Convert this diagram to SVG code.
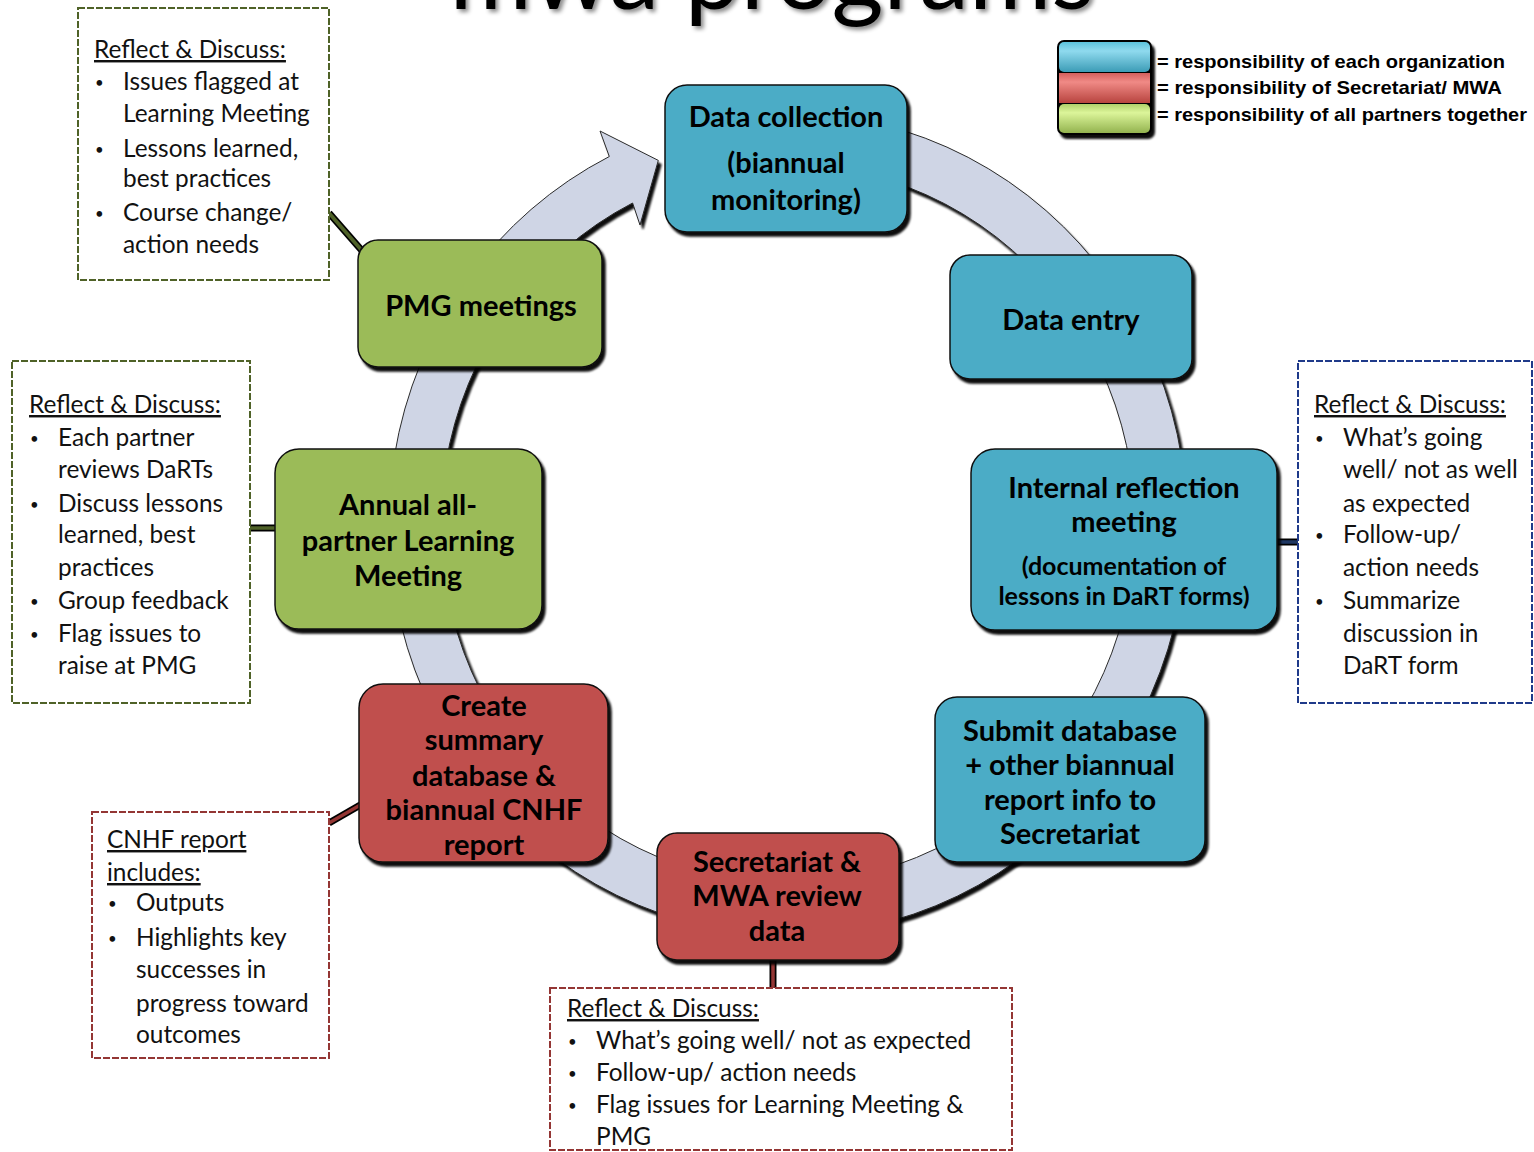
<svg xmlns="http://www.w3.org/2000/svg" width="1534" height="1152" viewBox="0 0 1534 1152">
<defs>
<style>
.node text{font-family:Lato,"Open Sans","Liberation Sans",sans-serif;font-weight:700;font-size:29px;fill:#000;text-anchor:middle}
.node .sm{font-size:25px}
.nb{stroke:#111;stroke-width:1.5}
.blue{fill:#4bacc6}.red{fill:#c0504d}.green{fill:#9bbb59}
.call{fill:#fff;stroke-width:2;stroke-dasharray:7 2}
.call text{font-family:Lato,"Open Sans","Liberation Sans",sans-serif;font-size:24.4px;fill:#111}
.call text.bu{font-size:15px}
.hd{text-decoration:underline}
.leg{font-family:"Liberation Sans",Arial,sans-serif;font-weight:700;font-size:19px;fill:#000}
.cb{stroke:#000;stroke-width:7;fill:none}
</style>
<filter id="sh" x="-10%" y="-10%" width="130%" height="130%">
<feDropShadow dx="3" dy="4" stdDeviation="1" flood-color="#000" flood-opacity="0.95"/>
</filter>
<filter id="tsh" x="-5%" y="-50%" width="110%" height="200%">
<feDropShadow dx="3" dy="3" stdDeviation="2" flood-color="#000" flood-opacity="0.45"/>
</filter>
<linearGradient id="gb" x1="0" y1="0" x2="0" y2="1"><stop offset="0" stop-color="#5cc3dd"/><stop offset="0.3" stop-color="#8fdaee"/><stop offset="1" stop-color="#3c9cb6"/></linearGradient>
<linearGradient id="gr" x1="0" y1="0" x2="0" y2="1"><stop offset="0" stop-color="#d35f5c"/><stop offset="0.3" stop-color="#f08a86"/><stop offset="1" stop-color="#b8443f"/></linearGradient>
<linearGradient id="gg" x1="0" y1="0" x2="0" y2="1"><stop offset="0" stop-color="#b0d06a"/><stop offset="0.3" stop-color="#dcf59a"/><stop offset="1" stop-color="#93b34f"/></linearGradient>
</defs>
<rect width="1534" height="1152" fill="#fff"/>

<text x="772" y="9" font-family="Lato,'Open Sans','Liberation Sans',sans-serif" font-size="100" text-anchor="middle" fill="#000" filter="url(#tsh)">mwa programs</text>

<g id="cycle-arrow" filter="url(#sh)">
<path d="M857.3,119.3 A399,411 0 1 1 609.3,156.5 L600,131 L658.3,160.4 L640,225 L632.6,203 A347,359 0 1 0 848.2,170.5 Z" fill="#cfd5e5" stroke="#2a2a2a" stroke-width="1"/>
</g>

<g id="legend">
<g filter="url(#sh)">
<rect x="1057" y="40" width="95" height="95" rx="7" fill="#000"/>
</g>
<rect x="1059" y="42" width="91" height="30" rx="5" fill="url(#gb)"/>
<rect x="1059" y="73" width="91" height="30" fill="url(#gr)"/>
<rect x="1059" y="104" width="91" height="29" rx="5" fill="url(#gg)"/>
<text class="leg" x="1157" y="68" textLength="348" lengthAdjust="spacingAndGlyphs">= responsibility of each organization</text>
<text class="leg" x="1157" y="94" textLength="345" lengthAdjust="spacingAndGlyphs">= responsibility of Secretariat/ MWA</text>
<text class="leg" x="1157" y="121" textLength="370" lengthAdjust="spacingAndGlyphs">= responsibility of all partners together</text>
</g>

<g id="connectors">
<line class="cb" x1="329" y1="213" x2="364" y2="253"/>
<line x1="329" y1="213" x2="364" y2="253" stroke="#4f6228" stroke-width="3.5"/>
<line class="cb" x1="250" y1="528" x2="276" y2="528"/>
<line x1="250" y1="528" x2="276" y2="528" stroke="#4f6228" stroke-width="3.5"/>
<line class="cb" x1="1276" y1="542" x2="1298" y2="542"/>
<line x1="1276" y1="542" x2="1298" y2="542" stroke="#1f3864" stroke-width="3.5"/>
<line class="cb" x1="329" y1="823" x2="362" y2="804"/>
<line x1="329" y1="823" x2="362" y2="804" stroke="#943634" stroke-width="3.5"/>
<line class="cb" x1="773" y1="958" x2="773" y2="989"/>
<line x1="773" y1="958" x2="773" y2="989" stroke="#943634" stroke-width="3.5"/>
</g>

<g id="node-data-collection" class="node">
<rect class="nb blue" x="665" y="85" width="242" height="147" rx="22" filter="url(#sh)"/>
<text x="786" y="127">Data collection</text>
<text x="786" y="173">(biannual</text>
<text x="786" y="210">monitoring)</text>
</g>
<g id="node-data-entry" class="node">
<rect class="nb blue" x="950" y="255" width="242" height="124" rx="20" filter="url(#sh)"/>
<text x="1071" y="330">Data entry</text>
</g>
<g id="node-internal-reflection" class="node">
<rect class="nb blue" x="971" y="449" width="306" height="181" rx="24" filter="url(#sh)"/>
<text x="1124" y="498">Internal reflection</text>
<text x="1124" y="532">meeting</text>
<text class="sm" x="1124" y="575">(documentation of</text>
<text class="sm" x="1124" y="605">lessons in DaRT forms)</text>
</g>
<g id="node-submit" class="node">
<rect class="nb blue" x="935" y="697" width="270" height="165" rx="22" filter="url(#sh)"/>
<text x="1070" y="741">Submit database</text>
<text x="1070" y="775">+ other biannual</text>
<text x="1070" y="810">report info to</text>
<text x="1070" y="844">Secretariat</text>
</g>
<g id="node-secretariat-review" class="node">
<rect class="nb red" x="657" y="833" width="242" height="127" rx="20" filter="url(#sh)"/>
<text x="777" y="872">Secretariat &amp;</text>
<text x="777" y="906">MWA review</text>
<text x="777" y="941">data</text>
</g>
<g id="node-create-summary" class="node">
<rect class="nb red" x="359" y="684" width="249" height="178" rx="24" filter="url(#sh)"/>
<text x="484" y="716">Create</text>
<text x="484" y="750">summary</text>
<text x="484" y="786">database &amp;</text>
<text x="484" y="820">biannual CNHF</text>
<text x="484" y="855">report</text>
</g>
<g id="node-annual-meeting" class="node">
<rect class="nb green" x="275" y="449" width="267" height="180" rx="24" filter="url(#sh)"/>
<text x="408" y="515">Annual all-</text>
<text x="408" y="551">partner Learning</text>
<text x="408" y="586">Meeting</text>
</g>
<g id="node-pmg" class="node">
<rect class="nb green" x="358" y="240" width="244" height="127" rx="20" filter="url(#sh)"/>
<text x="481" y="316">PMG meetings</text>
</g>

<g id="callout-pmg" class="call">
<rect class="call" x="78" y="8" width="251" height="272" stroke="#4f6228"/>
<text class="hd" x="94" y="58">Reflect &amp; Discuss:</text>
<text class="bu" x="95" y="88">•</text><text x="123" y="90">Issues flagged at</text>
<text x="123" y="122">Learning Meeting</text>
<text class="bu" x="95" y="155">•</text><text x="123" y="157">Lessons learned,</text>
<text x="123" y="187">best practices</text>
<text class="bu" x="95" y="219">•</text><text x="123" y="221">Course change/</text>
<text x="123" y="253">action needs</text>
</g>

<g id="callout-annual" class="call">
<rect class="call" x="12" y="361" width="238" height="342" stroke="#4f6228"/>
<text class="hd" x="29" y="413">Reflect &amp; Discuss:</text>
<text class="bu" x="30" y="444">•</text><text x="58" y="446">Each partner</text>
<text x="58" y="478">reviews DaRTs</text>
<text class="bu" x="30" y="510">•</text><text x="58" y="512">Discuss lessons</text>
<text x="58" y="543">learned, best</text>
<text x="58" y="576">practices</text>
<text class="bu" x="30" y="607">•</text><text x="58" y="609">Group feedback</text>
<text class="bu" x="30" y="640">•</text><text x="58" y="642">Flag issues to</text>
<text x="58" y="674">raise at PMG</text>
</g>

<g id="callout-internal" class="call">
<rect class="call" x="1298" y="361" width="234" height="342" stroke="#1f3a8a"/>
<text class="hd" x="1314" y="413">Reflect &amp; Discuss:</text>
<text class="bu" x="1315" y="444">•</text><text x="1343" y="446">What’s going</text>
<text x="1343" y="478">well/ not as well</text>
<text x="1343" y="512">as expected</text>
<text class="bu" x="1315" y="541">•</text><text x="1343" y="543">Follow-up/</text>
<text x="1343" y="576">action needs</text>
<text class="bu" x="1315" y="607">•</text><text x="1343" y="609">Summarize</text>
<text x="1343" y="642">discussion in</text>
<text x="1343" y="674">DaRT form</text>
</g>

<g id="callout-cnhf" class="call">
<rect class="call" x="92" y="812" width="237" height="246" stroke="#943634"/>
<text class="hd" x="107" y="848">CNHF report</text>
<text class="hd" x="107" y="881">includes:</text>
<text class="bu" x="108" y="909">•</text><text x="136" y="911">Outputs</text>
<text class="bu" x="108" y="944">•</text><text x="136" y="946">Highlights key</text>
<text x="136" y="978">successes in</text>
<text x="136" y="1012">progress toward</text>
<text x="136" y="1043">outcomes</text>
</g>

<g id="callout-secretariat" class="call">
<rect class="call" x="550" y="988" width="462" height="162" stroke="#943634"/>
<text class="hd" x="567" y="1017">Reflect &amp; Discuss:</text>
<text class="bu" x="568" y="1047">•</text><text x="596" y="1049">What’s going well/ not as expected</text>
<text class="bu" x="568" y="1079">•</text><text x="596" y="1081">Follow-up/ action needs</text>
<text class="bu" x="568" y="1111">•</text><text x="596" y="1113">Flag issues for Learning Meeting &amp;</text>
<text x="596" y="1145">PMG</text>
</g>
</svg>
